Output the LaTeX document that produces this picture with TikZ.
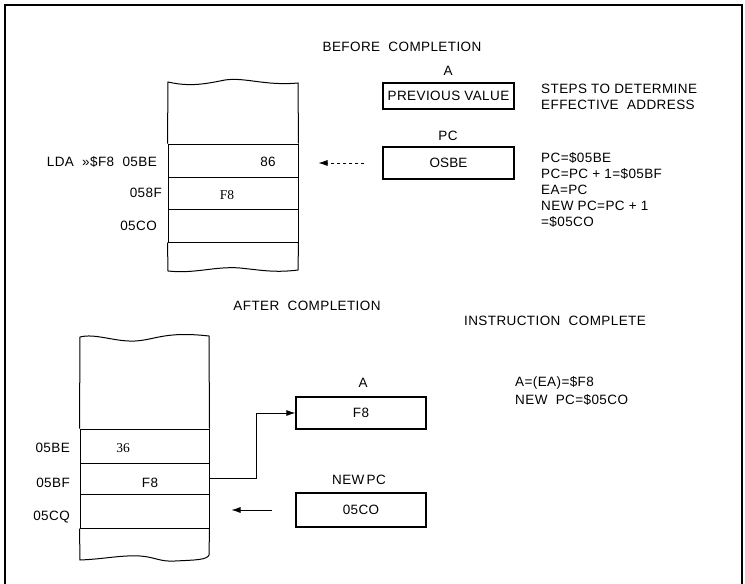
\documentclass[tikz,border=0pt]{standalone}
\usepackage{fontspec}
\setmainfont{Liberation Sans}[LetterSpace=3]
\newfontfamily\numserif{Liberation Serif}
\usetikzlibrary{arrows.meta}
\begin{document}
\begin{tikzpicture}[x=1pt,y=-1pt,
  font=\fontsize{13.5}{15}\selectfont,
  txt/.style={inner sep=0pt},
  sertxt/.style={inner sep=0pt, font=\numserif\fontsize{13.5}{15}\selectfont},
  cellA/.style={draw, line width=1pt, minimum width=130pt, inner sep=0pt},
  cellB/.style={draw, line width=1pt, minimum width=129pt, inner sep=0pt},
  reg/.style={draw, line width=1.3pt, minimum width=131pt, inner sep=0pt},
  outline/.style={line width=1pt},
  tip/.style={-{Latex[length=9pt,width=6pt]}},
]
\useasboundingbox (0,0) rectangle (745,584);
\draw[line width=1.5pt] (5,584) -- (5,5) -- (742,5) -- (742,584);

% ---------- BEFORE ----------
\node[txt] (tbefore) at (402,47) {BEFORE\ \ COMPLETION};

\node[cellA, minimum height=33pt] (c1) at (233,160.5) {};
\node[cellA, minimum height=32pt] (c2) at (233,193) {};
\node[cellA, minimum height=33pt] (c3) at (233,225.5) {};
\draw[outline] (c1.north west) -- (168,82) .. controls (190,87) and (205,84) .. (225,80)
  .. controls (245,77) and (265,86) .. (298,83) -- (c1.north east);
\draw[outline] (c3.south west) -- (168,271) .. controls (195,274) and (215,266) .. (240,268)
  .. controls (260,270) and (275,273) .. (298,270) -- (c3.south east);

\node[txt] (v86) at (268,162) {86};
\node[sertxt] (vf8a) at (227,195) {F8};

\node[txt, anchor=east] (l1) at (157,162) {LDA\ \ »\$F8\ \ 05BE};
\node[txt, anchor=east] (l2) at (162,193) {058F};
\node[txt, anchor=east] (l3) at (157,226) {05CO};

\node[txt] (tA1) at (448,71) {A};
\node[reg, minimum height=26pt] (ra) at (448.5,96) {PREVIOUS VALUE};
\node[txt] (tPC1) at (448,136) {PC};
\node[reg, minimum height=32pt] (rpc) at (448.5,163) {\addfontfeature{LetterSpace=0}OSBE};

\draw[tip, dashed, line width=0.8pt, shorten <=18pt, shorten >=20pt] (rpc.west) -- (rpc.west -| c1.east);

\node[txt, anchor=west] (s1) at (541,89) {STEPS TO DETERMINE};
\node[txt, anchor=west] (s2) at (541,105) {EFFECTIVE\ \ ADDRESS};
\node[txt, anchor=west] (s3) at (541,158) {PC=\$05BE};
\node[txt, anchor=west] (s4) at (541,174) {PC=PC + 1=\$05BF};
\node[txt, anchor=west] (s5) at (541,190) {EA=PC};
\node[txt, anchor=west] (s6) at (541,206) {NEW PC=PC + 1};
\node[txt, anchor=west] (s7) at (541,222) {=\$05CO};

% ---------- AFTER ----------
\node[txt] (tafter) at (307,306) {AFTER\ \ COMPLETION};
\node[txt] (tinst) at (555,321) {INSTRUCTION\ \ COMPLETE};

\node[cellB, minimum height=34pt] (d1) at (144.5,446) {};
\node[cellB, minimum height=31pt] (d2) at (144.5,478.5) {};
\node[cellB, minimum height=34pt] (d3) at (144.5,511) {};
\draw[outline] (d1.north west) -- (80,337) .. controls (95,333) and (115,342) .. (135,341)
  .. controls (155,340) and (165,331) .. (209,336) -- (d1.north east);
\draw[outline] (d3.south west) -- (80,560) .. controls (105,559) and (120,555) .. (140,556)
  .. controls (155,557) and (160,562) .. (175,561) .. controls (195,560) and (207,560) .. (209,555)
  -- (d3.south east);

\node[sertxt] (v36) at (123,448) {36};
\node[txt] (vf8b) at (150,483) {F8};

\node[txt, anchor=east] (m1) at (70,448) {05BE};
\node[txt, anchor=east] (m2) at (70,483) {05BF};
\node[txt, anchor=east] (m3) at (70,517) {05CQ};

\node[txt] (tA2) at (363,383) {A};
\node[reg, minimum width=130pt, minimum height=32pt] (ba) at (361,413) {F8};
\node[txt] (tNPC) at (359,480) {NEW\,PC};
\node[reg, minimum width=130pt, minimum height=34pt] (bnpc) at (361,510) {05CO};

\draw[tip, line width=0.8pt] (d2.east) -- ++(47,0) |- (ba.west);
\draw[tip, line width=0.8pt, shorten <=23pt, shorten >=22pt] (bnpc.west) -- (bnpc.west -| d3.east);

\node[txt, anchor=west] (r1) at (515,383) {A=(EA)=\$F8};
\node[txt, anchor=west] (r2) at (515,400) {NEW\ \ PC=\$05CO};
\end{tikzpicture}
\end{document}
